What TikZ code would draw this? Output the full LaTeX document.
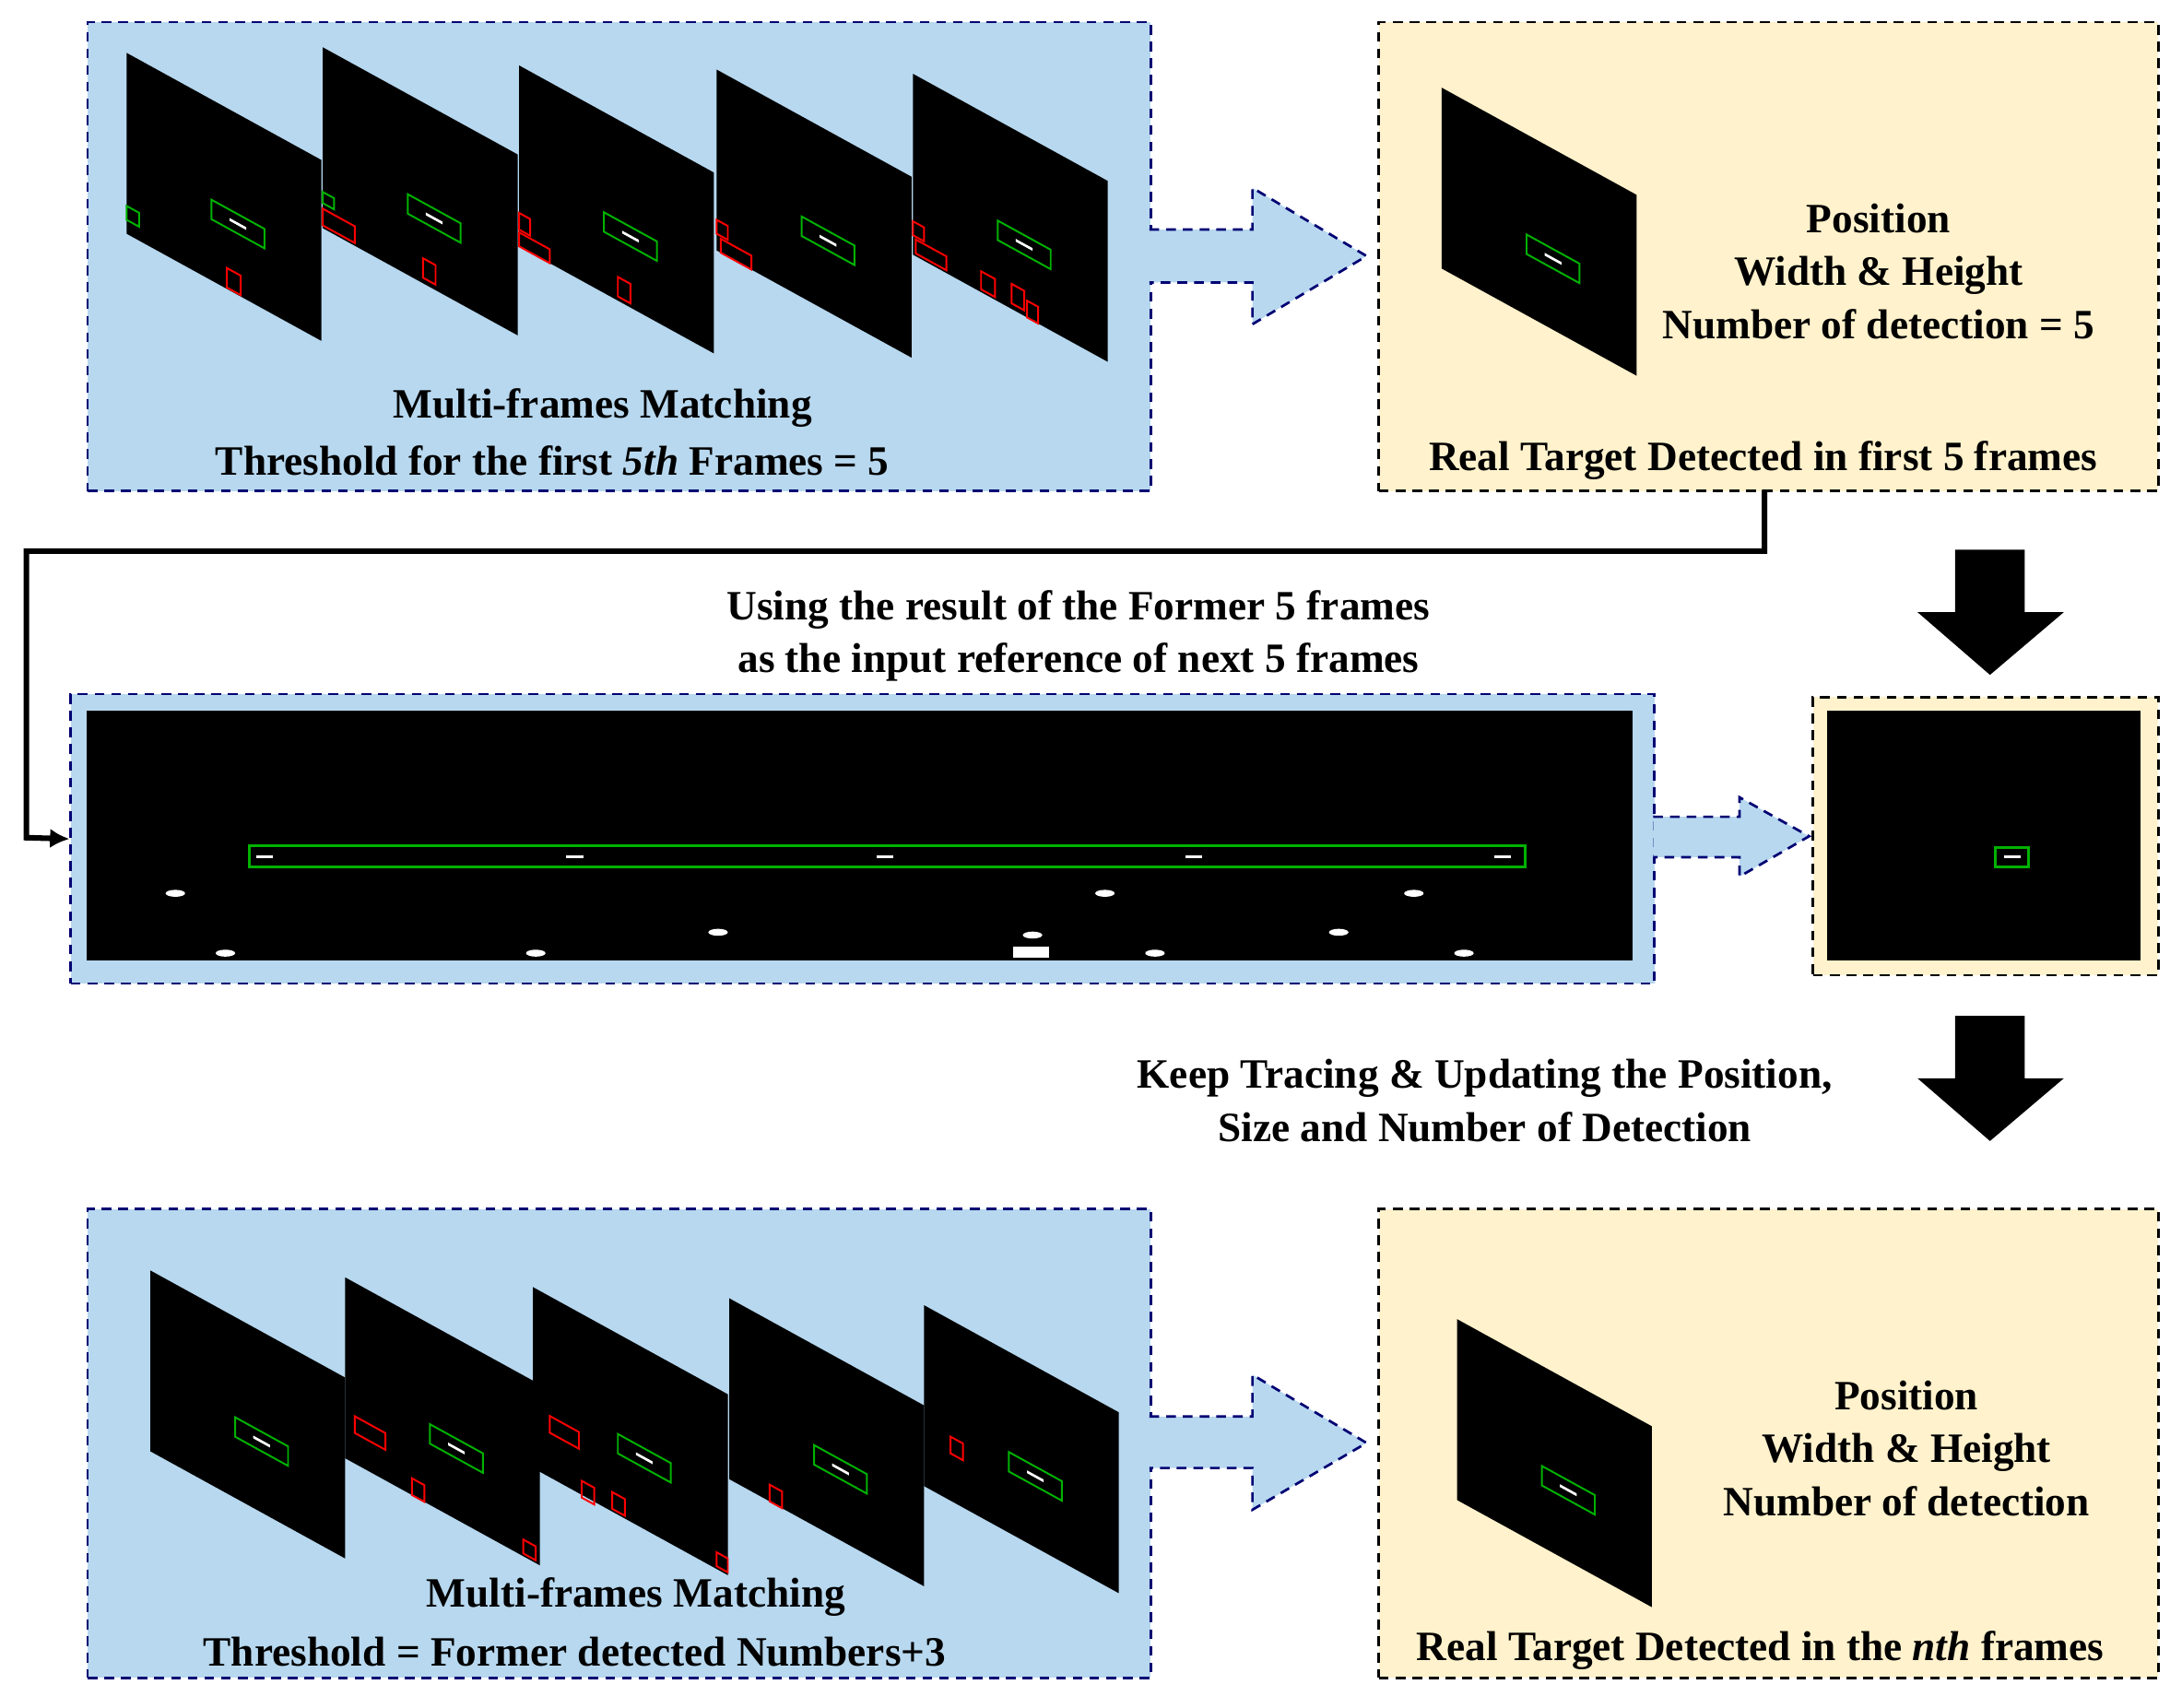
\documentclass[tikz,border=0pt]{standalone}
\usepackage{fontspec}
\setmainfont{Liberation Serif}
\usetikzlibrary{arrows.meta}
\begin{document}
\begin{tikzpicture}[x=1pt,y=-1pt,
  dsh/.style={dash pattern=on 7pt off 5pt,line width=1.8pt},
  bluebox/.style={draw=blue!45!black,dsh,fill=lb,anchor=north west,inner sep=0},
  ybox/.style={draw=black,dsh,fill=yb,anchor=north west,inner sep=0},
  barrow/.style={draw=blue!45!black,dsh,fill=lb},
  karrow/.style={fill=black},
  lbl/.style={font=\fontsize{30}{38}\selectfont\bfseries,align=center},
  gr/.style={draw=green!70!black,line width=1.3pt},
  rd/.style={draw=red,line width=1.3pt}]
\definecolor{lb}{RGB}{183,216,239}
\definecolor{yb}{RGB}{255,242,204}
\newcommand\fr[2]{\fill[black] (#1,#2) -- ++(140,77) -- ++(0,130) -- ++(-140,-77) -- cycle;}
\newcommand\sr[7]{\draw[#7] ({#1+#3},{#2+0.55*#3+#5}) -- ({#1+#4},{#2+0.55*#4+#5}) -- ({#1+#4},{#2+0.55*#4+#6}) -- ({#1+#3},{#2+0.55*#3+#6}) -- cycle;}
\newcommand\gf[2]{\sr{#1}{#2}{61}{99}{72}{86}{gr}\fill[white] ({#1+74},{#2+0.55*74+78}) -- ({#1+86},{#2+0.55*86+78}) -- ({#1+86},{#2+0.55*86+80}) -- ({#1+74},{#2+0.55*74+80}) -- cycle;}
\useasboundingbox (0,0) rectangle (1568,1227);
% boxes
\node[bluebox,minimum width=764,minimum height=337] (b1) at (62,15) {};
\node[ybox,minimum width=560,minimum height=337] (y1) at (990,15) {};
\node[bluebox,minimum width=1138,minimum height=208] (b2) at (50,498) {};
\node[ybox,minimum width=248,minimum height=200] (y2) at (1302,500) {};
\node[bluebox,minimum width=764,minimum height=337] (b3) at (62,868) {};
\node[ybox,minimum width=560,minimum height=337] (y3) at (990,868) {};
% top frames
\fr{91}{38}\gf{91}{38}\sr{91}{38}{0}{9}{110}{120}{gr}\sr{91}{38}{72}{82}{115}{129}{rd}
\fr{232}{34}\gf{232}{34}\sr{232}{34}{0}{8}{104}{112}{gr}\sr{232}{34}{0}{23}{116}{128}{rd}\sr{232}{34}{72}{81}{112}{126}{rd}
\fr{373}{47}\gf{373}{47}\sr{373}{47}{0}{8}{106}{118}{rd}\sr{373}{47}{0}{22}{120}{130}{rd}\sr{373}{47}{71}{80}{113}{127}{rd}
\fr{515}{50}\gf{515}{50}\sr{515}{50}{0}{8}{108}{118}{rd}\sr{515}{50}{3}{25}{120}{130}{rd}
\fr{656}{53}\gf{656}{53}\sr{656}{53}{0}{8}{106}{116}{rd}\sr{656}{53}{2}{24}{118}{128}{rd}\sr{656}{53}{49}{59}{115}{128}{rd}\sr{656}{53}{71}{80}{112}{126}{rd}\sr{656}{53}{82}{90}{118}{130}{rd}
\fr{1036}{63}\gf{1036}{63}
% bottom frames
\fr{108}{913}\gf{108}{913}
\fr{248}{918}\gf{248}{918}\sr{248}{918}{7}{29}{96}{108}{rd}\sr{248}{918}{48}{57}{118}{130}{rd}\sr{248}{918}{128}{137}{118}{128}{rd}
\fr{383}{925}\gf{383}{925}\sr{383}{925}{12}{33}{86}{98}{rd}\sr{383}{925}{35}{44}{120}{132}{rd}\sr{383}{925}{57}{66}{116}{128}{rd}\sr{383}{925}{132}{140}{118}{128}{rd}
\fr{524}{933}\gf{524}{933}\sr{524}{933}{29}{38}{118}{130}{rd}
\fr{664}{938}\gf{664}{938}\sr{664}{938}{19}{28}{84}{96}{rd}
\fr{1047}{948}\gf{1047}{948}
% middle images
\fill[black] (62,511) rectangle (1173,690);
\draw[gr,line width=2pt] (179,608) rectangle (1096,623);
\foreach \x in {190,413,636,858,1080}{\fill[white] (\x-6,614.5) rectangle (\x+6,616.5);}
\foreach \x/\y in {126/642, 162/685, 385/685, 516/670, 742/672, 830/685, 794/642, 962/670, 1016/642, 1052/685}{\fill[white] (\x,\y) ellipse (7 and 2.5);}
\fill[white] (728,680) rectangle (754,688);
\fill[black] (1313,511) rectangle (1538,690);
\draw[gr,line width=2pt] (1434,609) rectangle (1458,623);
\fill[white] (1440,615) rectangle (1452,617);
% block arrows
\draw[barrow] (826,165) -- (900,165) -- (900,135) -- (982,184) -- (900,233) -- (900,203) -- (826,203);
\draw[barrow] (826,1018) -- (900,1018) -- (900,988) -- (982,1037) -- (900,1085) -- (900,1055) -- (826,1055);
\draw[barrow] (1188,587) -- (1250,587) -- (1250,573) -- (1300,601) -- (1250,630) -- (1250,616) -- (1188,616);
\fill[karrow] (1405,395) -- (1455,395) -- (1455,440) -- (1483,440) -- (1430,485) -- (1378,440) -- (1405,440) -- cycle;
\fill[karrow] (1405,730) -- (1455,730) -- (1455,775) -- (1483,775) -- (1430,820) -- (1378,775) -- (1405,775) -- cycle;
% connector
\coordinate (c1) at (1268,352);
\draw[line width=4pt,-{Latex[length=14pt,width=14pt]}] (c1) -- (1268,396) -- (19,396) -- (19,602) -- (b2.west);
% texts
\node[lbl] (t1) at (433,293) {Multi-frames Matching};
\node[lbl] (t2) at (397,331) {Threshold for the first \textit{5th} Frames = 5};
\node[lbl] (t3) at (1350,195) {Position\\Width \& Height\\Number of detection = 5};
\node[lbl] (t4) at (1267,331) {Real Target Detected in first 5 frames};
\node[lbl] (t5) at (775,457) {Using the result of the Former 5 frames\\as the input reference of next 5 frames};
\node[lbl] (t6) at (1067,791) {Keep Tracing \& Updating the Position,\\Size and Number of Detection};
\node[lbl] (t7) at (457,1148) {Multi-frames Matching};
\node[lbl] (t8) at (413,1187) {Threshold = Former detected Numbers+3};
\node[lbl] (t9) at (1370,1041) {Position\\Width \& Height\\Number of detection};
\node[lbl] (t10) at (1265,1186) {Real Target Detected in the \textit{nth} frames};
\end{tikzpicture}
\end{document}
